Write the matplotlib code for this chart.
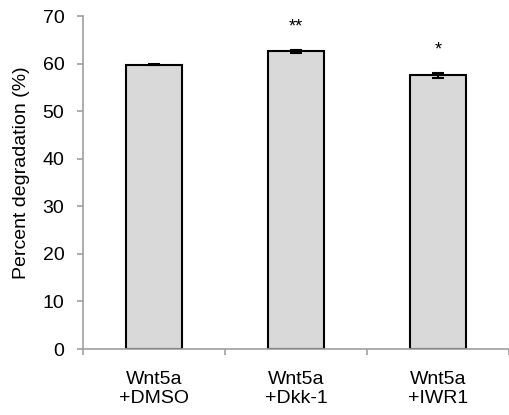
import matplotlib
matplotlib.use("Agg")
import matplotlib.pyplot as plt
import numpy as np

categories = ["Wnt5a\n+DMSO", "Wnt5a\n+Dkk-1", "Wnt5a\n+IWR1"]
means = [59.8, 62.6, 57.6]
errors = [0.15, 0.35, 0.5]
stars = ["", "**", "*"]

plt.rcParams["font.family"] = ["Liberation Sans", "DejaVu Sans"]

fig = plt.figure(figsize=(5.1, 4.15), dpi=100)
ax = fig.add_axes([0.163, 0.159, 0.835, 0.802])

x = np.arange(len(categories))
ax.bar(x, means, width=0.4, color="#d9d9d9", edgecolor="black", linewidth=1.5, zorder=2)
ax.errorbar(x, means, yerr=errors, fmt="none", ecolor="black", elinewidth=1.5,
            capsize=4, capthick=1.5, zorder=3)

# significance marks above the error bars
for xi, m, e, s in zip(x, means, errors, stars):
    if s:
        ax.text(xi, m + e + 3.0, s, ha="center", va="bottom", fontsize=13)

ax.set_xlim(-0.5, 2.5)
ax.set_ylim(0, 70)
ax.set_yticks(range(0, 71, 10))
ax.set_xticks([-0.5, 0.5, 1.5, 2.5])
ax.set_xticklabels([])
ax.set_xticks(x, minor=True)
ax.set_xticklabels(categories, minor=True, fontsize=14, linespacing=1.12)
ax.tick_params(axis="x", which="minor", length=0, pad=16)
ax.tick_params(axis="x", which="major", length=4, color="#a0a0a0", width=1.2)
ax.tick_params(axis="y", length=4.5, color="#a0a0a0", width=1.2, labelsize=14, pad=9)
ax.set_ylabel("Percent degradation (%)", fontsize=14)
ax.yaxis.set_label_coords(-0.125, 0.53)

for side in ("top", "right"):
    ax.spines[side].set_visible(False)
for side in ("left", "bottom"):
    ax.spines[side].set_color("#a0a0a0")
    ax.spines[side].set_linewidth(1.2)

fig.savefig("out.png", dpi=100)
